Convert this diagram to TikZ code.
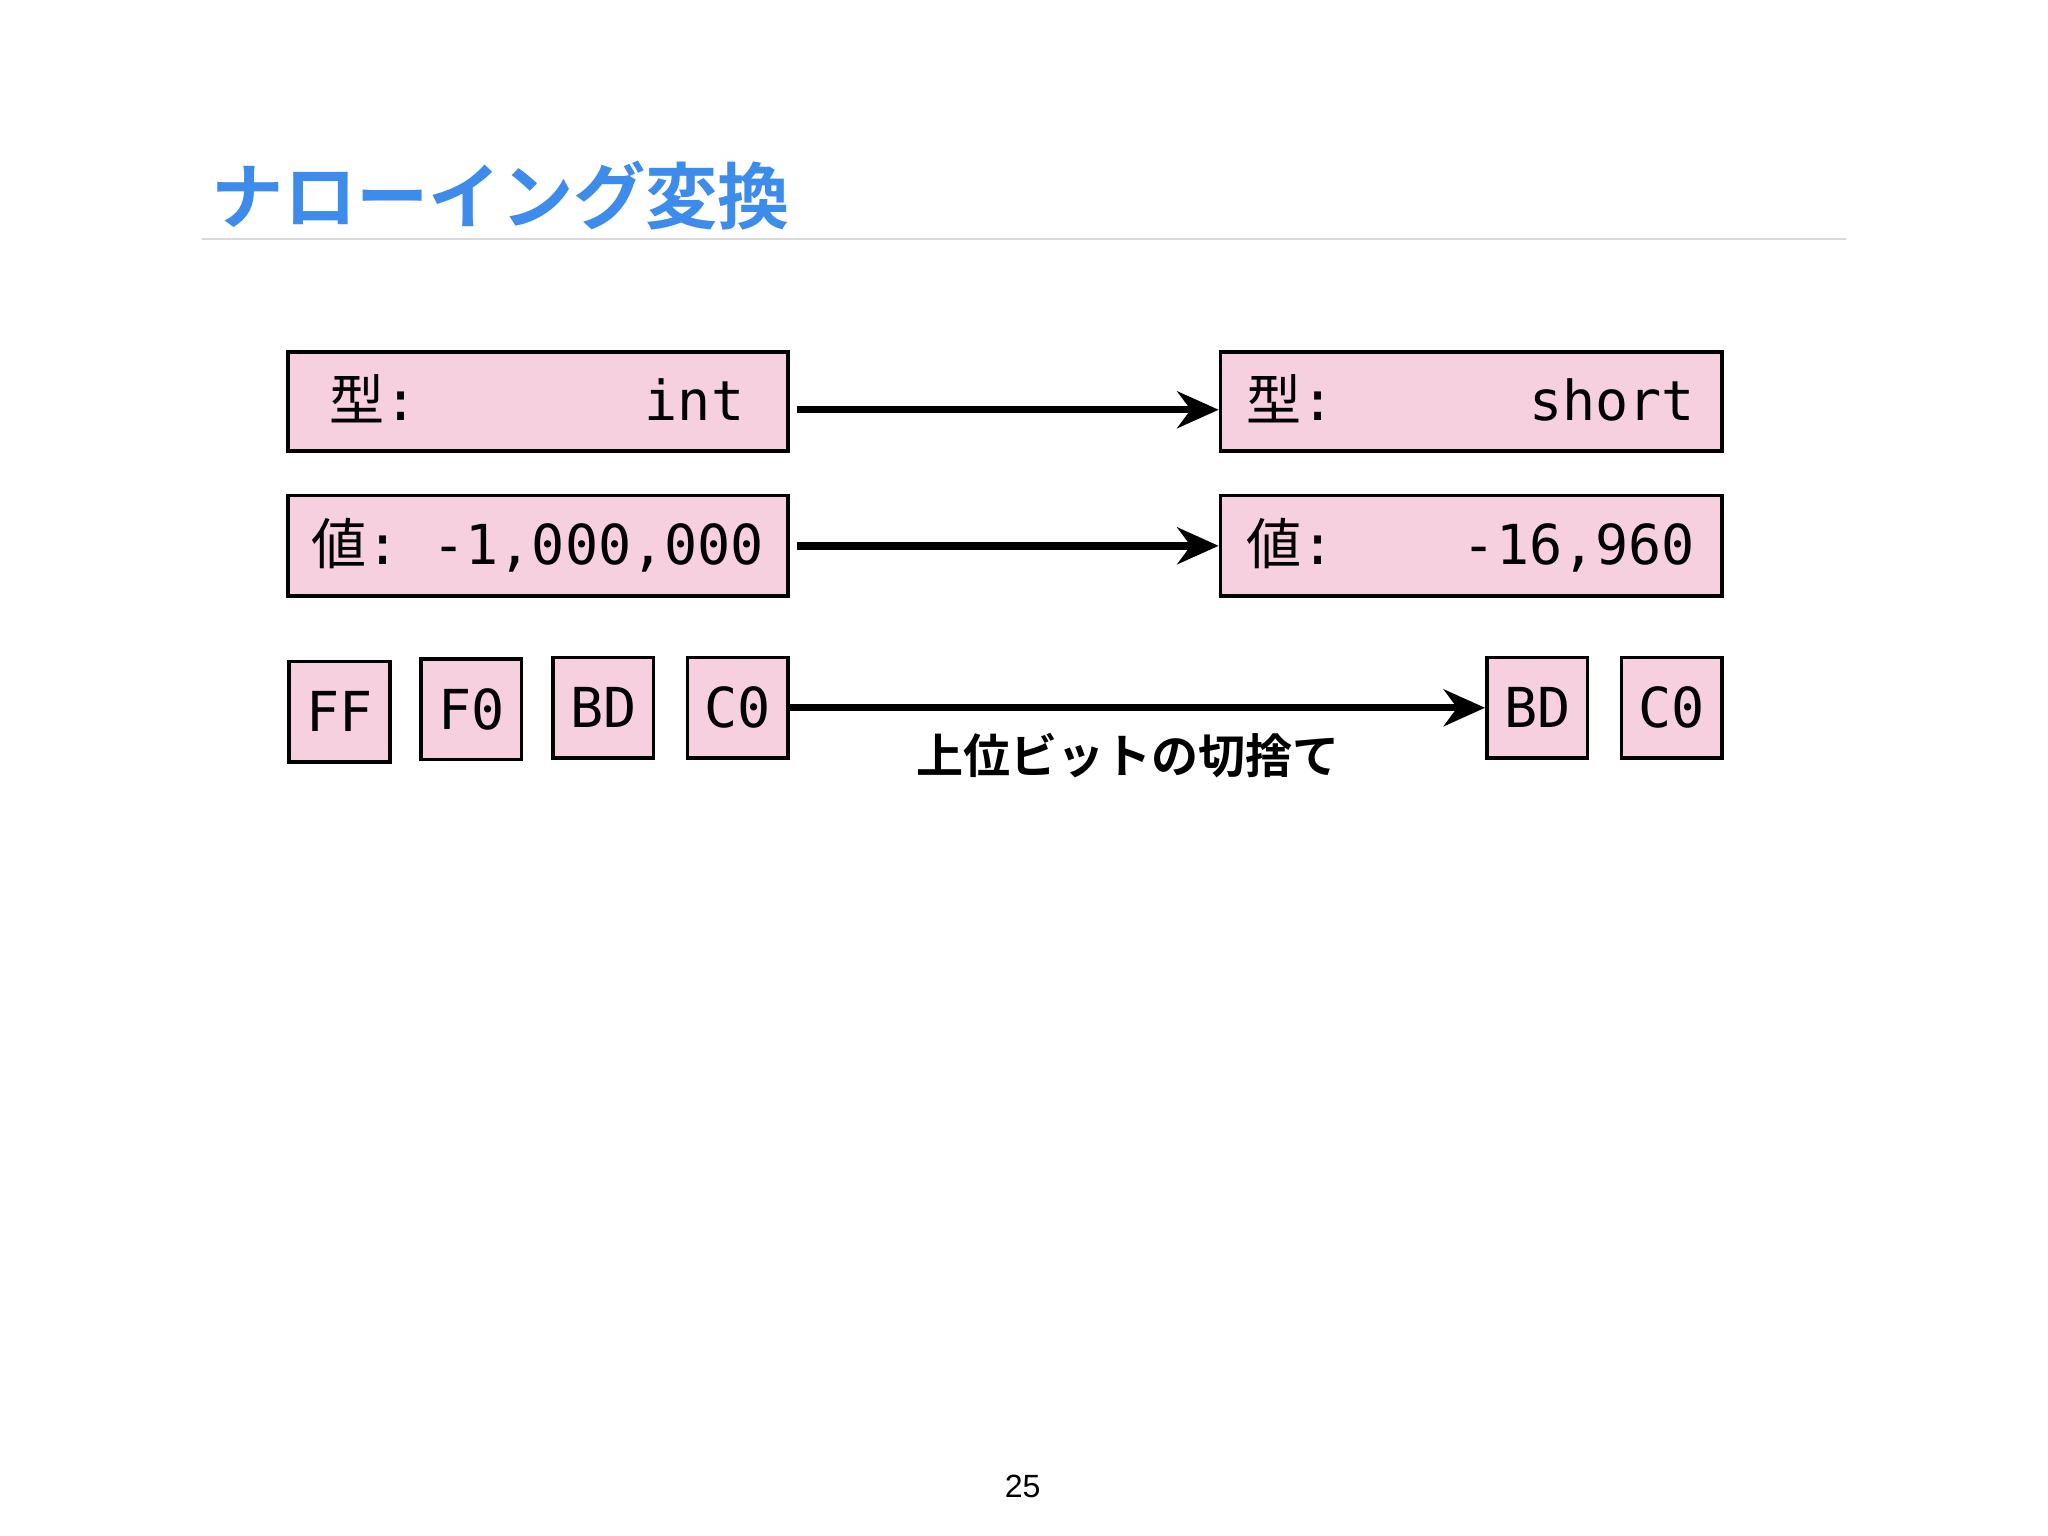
\documentclass[tikz,border=0pt]{standalone}
\usepackage{fontspec}
\setmainfont{Liberation Sans}
\setmonofont{DejaVu Sans Mono}
\newfontfamily\cjk{Noto Sans CJK JP}
\newfontfamily\cjkb{Noto Sans CJK JP Bold}
\usetikzlibrary{arrows.meta}
\definecolor{boxpink}{HTML}{F7D0DF}
\definecolor{titleblue}{HTML}{3D8BEB}
\begin{document}
\begin{tikzpicture}[x=0.02cm,y=-0.02cm,
  bx/.style={draw=black,line width=1.6pt,fill=boxpink,inner sep=0pt},
  ar/.style={line width=3.2pt,-{Stealth[length=18pt,width=16pt]}},
  tx/.style={font=\ttfamily\fontsize{24}{27}\selectfont,anchor=base},
]
\useasboundingbox (0,0) rectangle (1568,1176);
\fill[white] (0,0) rectangle (1568,1176);
\node[anchor=west,text=titleblue,font=\cjkb\fontsize{31.5}{34}\selectfont] (title) at (156,150) {ナローイング変換};
\draw[line width=1.2pt,black!15] (155,183) -- (1413,183);
\node[bx,minimum width=7.66cm,minimum height=1.52cm,anchor=north west] (t1) at (219,268) {};
\node[bx,minimum width=7.68cm,minimum height=1.52cm,anchor=north west] (t2) at (933,268) {};
\node[bx,minimum width=7.66cm,minimum height=1.54cm,anchor=north west] (v1) at (219,378) {};
\node[bx,minimum width=7.68cm,minimum height=1.54cm,anchor=north west] (v2) at (933,378) {};
\node[tx,anchor=base west] at (246,322) {{\cjk 型}:};
\node[tx,anchor=base east] at (576,322) {int};
\node[tx,anchor=base west] at (948,322) {{\cjk 型}:};
\node[tx,anchor=base east] at (1304,322) {short};
\node[tx,anchor=base west] at (232,432) {{\cjk 値}: -1,000,000};
\node[tx,anchor=base west] at (948,432) {{\cjk 値}:};
\node[tx,anchor=base east] at (1304,432) {-16,960};
\foreach \n/\x/\y/\t in {b1/220/505/FF,b2/321/503/F0,b3/422/502/BD,b4/525/502/C0,b5/1137/502/BD,b6/1240/502/C0}{
  \node[bx,minimum width=1.54cm,minimum height=1.54cm,anchor=north west,
        font=\ttfamily\fontsize{24}{27}\selectfont] (\n) at (\x,\y) {\raisebox{-3pt}{\t}};
}
\draw[ar] ([xshift=3pt,yshift=-3.6pt]t1.east) -- ([yshift=-3.6pt]t2.west);
\draw[ar] ([xshift=3pt]v1.east) -- (v2.west);
\draw[ar] (b4.east) -- (b5.west) node[midway,below=6pt,xshift=-4pt,font=\cjkb\fontsize{20.5}{23}\selectfont] (lab) {上位ビットの切捨て};
\node[font=\fontsize{14}{16}\selectfont] (pg) at (783,1138) {25};
\end{tikzpicture}
\end{document}
